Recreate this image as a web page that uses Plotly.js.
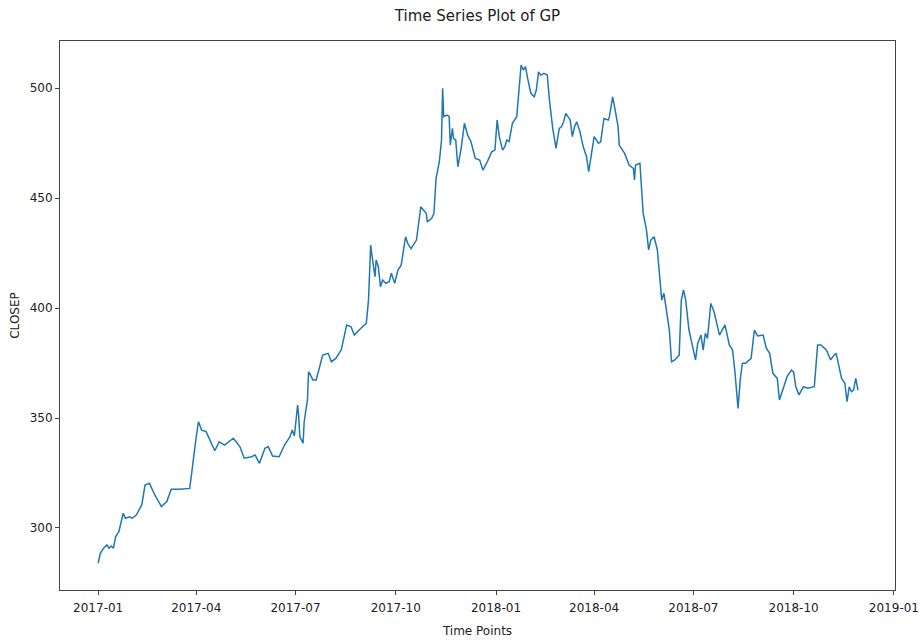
<!DOCTYPE html>
<html>
<head>
<meta charset="utf-8">
<script src="https://cdn.plot.ly/plotly-3.0.1.min.js"></script>
<style>html,body{margin:0;padding:0;background:#fff;}#chart{width:920px;height:640px;}</style>
</head>
<body>
<div id="chart"></div>
<script>
const dates = [
"2017-01-01","2017-01-03","2017-01-06","2017-01-09","2017-01-11","2017-01-13","2017-01-15","2017-01-17","2017-01-20","2017-01-22",
"2017-01-24","2017-01-26","2017-01-30","2017-02-01","2017-02-05","2017-02-10","2017-02-13","2017-02-17","2017-02-22","2017-02-28",
"2017-03-05","2017-03-09","2017-03-17","2017-03-26","2017-03-29","2017-04-01","2017-04-03","2017-04-06","2017-04-10","2017-04-15",
"2017-04-18","2017-04-22","2017-04-27","2017-05-05","2017-05-11","2017-05-15","2017-05-22","2017-05-25","2017-05-29","2017-06-03",
"2017-06-06","2017-06-10","2017-06-16","2017-06-21","2017-06-26","2017-06-28","2017-06-30","2017-07-03","2017-07-04","2017-07-05",
"2017-07-08","2017-07-09","2017-07-12","2017-07-13","2017-07-14","2017-07-17","2017-07-20","2017-07-26","2017-07-31","2017-08-03",
"2017-08-07","2017-08-12","2017-08-17","2017-08-21","2017-08-24","2017-08-30","2017-09-04","2017-09-06","2017-09-08","2017-09-10",
"2017-09-12","2017-09-13","2017-09-15","2017-09-17","2017-09-19","2017-09-22","2017-09-25","2017-09-27","2017-09-30","2017-10-03",
"2017-10-06","2017-10-10","2017-10-12","2017-10-15","2017-10-20","2017-10-24","2017-10-29","2017-10-30","2017-11-03","2017-11-05",
"2017-11-07","2017-11-10","2017-11-12","2017-11-13","2017-11-14","2017-11-17","2017-11-19","2017-11-20","2017-11-22","2017-11-23",
"2017-11-25","2017-11-27","2017-11-30","2017-12-03","2017-12-06","2017-12-09","2017-12-13","2017-12-17","2017-12-20","2017-12-24",
"2017-12-28","2017-12-31","2018-01-02","2018-01-04","2018-01-07","2018-01-09","2018-01-11","2018-01-13","2018-01-16","2018-01-20",
"2018-01-23","2018-01-24","2018-01-26","2018-01-28","2018-01-30","2018-02-02","2018-02-05","2018-02-07","2018-02-09","2018-02-11",
"2018-02-14","2018-02-17","2018-02-19","2018-02-22","2018-02-25","2018-02-28","2018-03-02","2018-03-04","2018-03-06","2018-03-10",
"2018-03-12","2018-03-14","2018-03-16","2018-03-19","2018-03-22","2018-03-25","2018-03-27","2018-03-30","2018-04-01","2018-04-05",
"2018-04-07","2018-04-10","2018-04-14","2018-04-15","2018-04-18","2018-04-20","2018-04-23","2018-04-24","2018-04-29","2018-05-03",
"2018-05-07","2018-05-08","2018-05-09","2018-05-13","2018-05-14","2018-05-16","2018-05-19","2018-05-21","2018-05-23","2018-05-26",
"2018-05-29","2018-05-31","2018-06-02","2018-06-04","2018-06-06","2018-06-09","2018-06-11","2018-06-14","2018-06-18","2018-06-20",
"2018-06-22","2018-06-24","2018-06-27","2018-06-30","2018-07-03","2018-07-05","2018-07-08","2018-07-10","2018-07-12","2018-07-14",
"2018-07-17","2018-07-20","2018-07-25","2018-07-30","2018-08-03","2018-08-06","2018-08-08","2018-08-11","2018-08-13","2018-08-15",
"2018-08-18","2018-08-23","2018-08-26","2018-08-29","2018-09-03","2018-09-06","2018-09-09","2018-09-12","2018-09-16","2018-09-18",
"2018-09-21","2018-09-25","2018-09-29","2018-10-01","2018-10-03","2018-10-06","2018-10-10","2018-10-14","2018-10-20","2018-10-23",
"2018-10-26","2018-10-31","2018-11-04","2018-11-06","2018-11-09","2018-11-11","2018-11-14","2018-11-17","2018-11-19","2018-11-21",
"2018-11-23","2018-11-25","2018-11-27","2018-11-29"
];
const closep = [
284.0,288.5,290.8,292.3,290.8,291.8,290.8,296.0,298.3,302.0,
306.7,304.4,305.1,304.4,305.9,310.5,319.5,320.3,315.0,309.7,
312.0,317.6,317.6,318.0,330.9,341.5,348.3,344.5,343.8,338.5,
335.1,339.2,337.7,340.8,337.0,331.7,332.4,333.2,329.4,336.2,
337.0,332.7,332.4,337.7,341.5,344.5,341.8,355.9,350.6,341.5,
338.5,348.3,358.2,371.0,370.3,367.3,367.3,378.6,379.4,375.6,
377.1,380.9,392.3,391.5,387.7,390.8,393.0,403.6,428.6,421.0,
414.2,421.8,418.8,409.7,412.7,411.2,412.0,415.8,411.2,417.3,
419.5,432.4,429.4,427.0,430.9,446.0,443.0,439.2,440.8,443.0,
459.0,466.5,476.4,499.9,487.0,487.7,487.0,474.1,481.7,477.1,
476.4,464.2,472.6,484.0,478.6,475.6,468.0,467.3,462.7,466.5,
471.0,471.8,485.5,477.9,471.8,473.3,476.4,475.6,484.0,487.0,
502.1,510.5,508.2,509.7,504.4,497.6,496.0,499.1,507.4,505.9,
506.7,505.9,494.5,481.7,472.6,481.7,482.4,484.7,488.5,485.5,
477.9,482.4,484.7,480.1,473.3,468.8,462.0,471.0,477.9,474.9,
475.6,486.2,485.5,487.0,496.0,490.8,482.4,474.1,470.3,465.0,
463.5,458.2,465.0,465.8,458.2,443.0,435.5,426.4,430.9,432.4,
426.4,414.2,403.6,406.7,399.1,390.0,375.6,376.4,378.6,403.6,
408.2,403.6,390.0,382.4,376.4,383.9,387.7,380.9,388.5,386.2,
402.1,398.3,387.7,392.3,383.2,380.9,371.8,354.4,367.3,374.9,
374.9,377.1,390.0,387.3,387.7,381.7,379.4,370.3,368.0,358.2,
362.7,368.8,371.8,371.0,364.2,360.5,364.2,363.5,364.2,383.2,
383.2,380.9,376.4,377.9,379.4,374.9,368.0,365.8,357.4,364.2,
362.0,362.7,368.0,362.7
];
const yTicks = [300, 350, 400, 450, 500];
const titleText = "Time Series Plot of GP";
const xTitle = "Time Points";
const yTitle = "CLOSEP";

const font = "DejaVu Sans, sans-serif";
const trace = {
  x: dates, y: closep, type: "scatter", mode: "lines",
  line: {color: "#1f77b4", width: 1.5}, hoverinfo: "skip"
};
const layout = {
  width: 920, height: 640,
  margin: {l: 60, r: 25, t: 41, b: 50},
  paper_bgcolor: "#fff", plot_bgcolor: "#fff",
  showlegend: false,
  font: {family: font, size: 12, color: "#222"},
  title: {text: titleText, x: 0.5, xref: "paper", xanchor: "center",
          y: 1 - 16/640, yref: "container", yanchor: "middle",
          font: {family: font, size: 15, color: "#222"}},
  xaxis: {
    type: "date", range: ["2016-11-27", "2019-01-02"],
    dtick: "M3", tick0: "2017-01-01", tickformat: "%Y-%m",
    showgrid: false, zeroline: false,
    showline: true, mirror: true, linecolor: "#444", linewidth: 1,
    ticks: "outside", ticklen: 4, tickcolor: "#444",
    ticklabelstandoff: 3,
    tickfont: {family: font, size: 12, color: "#222"},
    title: {text: xTitle, standoff: 12, font: {family: font, size: 12, color: "#222"}}
  },
  yaxis: {
    range: [271.8, 521.4], tickvals: yTicks, ticktext: yTicks.map(String),
    showgrid: false, zeroline: false,
    showline: true, mirror: true, linecolor: "#444", linewidth: 1,
    ticks: "outside", ticklen: 4, tickcolor: "#444",
    tickfont: {family: font, size: 12, color: "#222"},
    title: {text: yTitle, standoff: 7, font: {family: font, size: 12, color: "#222"}}
  }
};
Plotly.newPlot("chart", [trace], layout, {displayModeBar: false, staticPlot: true});
</script>
</body>
</html>
